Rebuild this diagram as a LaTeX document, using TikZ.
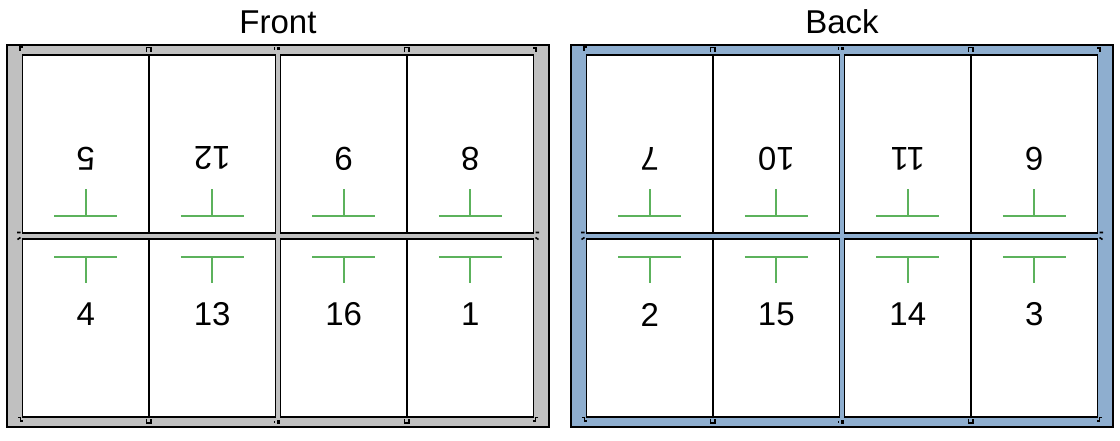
\documentclass[tikz,border=0pt]{standalone}
\usepackage{fontspec}
\setmainfont{Liberation Sans}
\definecolor{sheetgray}{RGB}{192,192,192}
\definecolor{sheetblue}{RGB}{142,174,207}
\definecolor{markgreen}{RGB}{92,178,92}
\begin{document}
\begin{tikzpicture}[x=1pt,y=-1pt,
  sheet/.style={line width=2pt,draw=black},
  block/.style={fill=white,draw=black,line width=1.5pt},
  divider/.style={draw=black,line width=1.2pt},
  tmark/.style={draw=markgreen,line width=1.6pt},
  crop/.style={draw=black,line width=1.6pt},
  num/.style={inner sep=0pt,font=\fontsize{33}{40}\selectfont},
  title/.style={inner sep=0pt,anchor=base,font=\fontsize{33}{40}\selectfont}]
\useasboundingbox (0,0) rectangle (1120,440);
\foreach \off/\col/\ttl/\s/\a/\b/\c/\d/\e/\f/\g/\h in
  {0/sheetgray/Front/f/5/12/9/8/4/13/16/1,
   564/sheetblue/Back/b/7/10/11/6/2/15/14/3} {
\begin{scope}[xshift=\off pt]
  \node[title] (title-\s) at (278,33.3) {\ttl};
  \draw[sheet,fill=\col] (7,45) rectangle (549,427);
  % page blocks
  \draw[block] (22.5,55) rectangle (275.5,233);
  \draw[block] (280.5,55) rectangle (533.5,233);
  \draw[block] (22.5,239) rectangle (275.5,417);
  \draw[block] (280.5,239) rectangle (533.5,417);
  % dividers
  \draw[divider] (149,55) -- (149,233) (149,239) -- (149,417);
  \draw[divider] (407,55) -- (407,233) (407,239) -- (407,417);
  % numbers
  \node[num,rotate=180] (n-\s-1) at (85.75,158.5) {\a};
  \node[num,rotate=180] (n-\s-2) at (212.25,158.5) {\b};
  \node[num,rotate=180] (n-\s-3) at (343.75,158.5) {\c};
  \node[num,rotate=180] (n-\s-4) at (470.25,158.5) {\d};
  \node[num] (n-\s-5) at (85.75,314.5) {\e};
  \node[num] (n-\s-6) at (212.25,314.5) {\f};
  \node[num] (n-\s-7) at (343.75,314.5) {\g};
  \node[num] (n-\s-8) at (470.25,314.5) {\h};
  % green T marks
  \foreach \cx in {85.75,212.25,343.75,470.25} {
    \draw[tmark] ({\cx-31.5},216) -- ({\cx+31.5},216) (\cx,216) -- (\cx,189);
    \draw[tmark] ({\cx-31.5},257) -- ({\cx+31.5},257) (\cx,257) -- (\cx,283);
  }
  % crop marks
  \draw[crop] (20,50.5) -- (20,47.2) -- (23,47.2);
  \draw[crop] (533,47.8) -- (536,47.8) -- (536,52);
  \draw[crop] (18,417.5) -- (20.5,417.5) -- (20.5,421) -- (23,421);
  \draw[crop] (538,417.5) -- (535.5,417.5) -- (535.5,421) -- (533,421);
  \draw[crop] (146.5,52) -- (146.5,47.5) -- (151,47.5) -- (151,52);
  \draw[crop] (404.5,52) -- (404.5,47.5) -- (409,47.5) -- (409,52);
  \draw[crop] (146.5,418.5) -- (146.5,423) -- (151,423) -- (151,418.5);
  \draw[crop] (404.5,418.5) -- (404.5,423) -- (409,423) -- (409,418.5);
  \fill (274,47) rectangle (275.3,49.5);
  \fill (277,46.5) rectangle (280,50);
  \fill (274,420.5) rectangle (275.3,423);
  \fill (277,420) rectangle (280,423.5);
  \draw[crop] (17,232.5) -- (20.5,232.5) (17.5,239.5) -- (20.5,237.5);
  \draw[crop] (539,232.5) -- (535.5,232.5) (538.5,239.5) -- (535.5,237.5);
\end{scope}
}
\end{tikzpicture}
\end{document}
